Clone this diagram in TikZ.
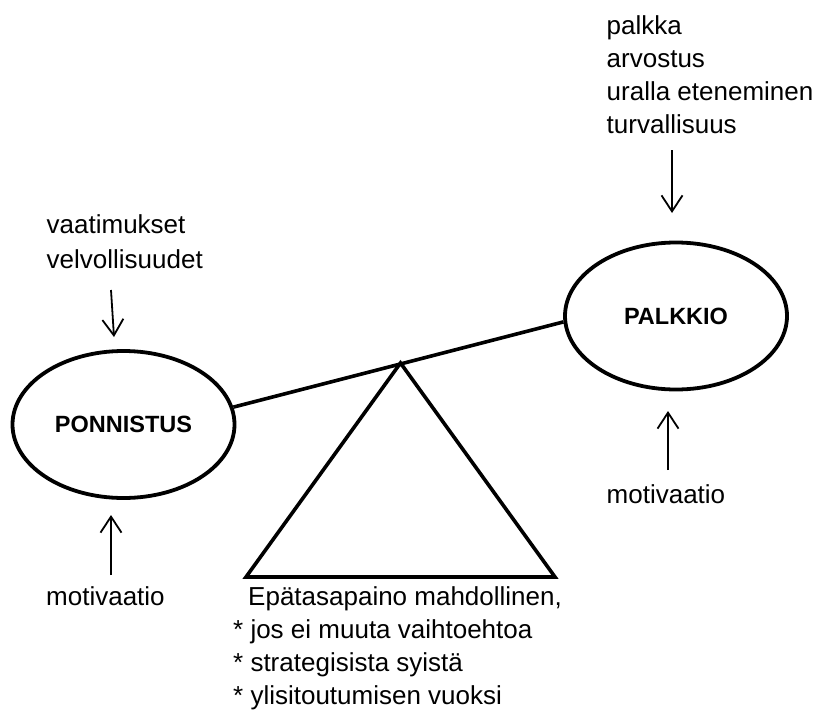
\documentclass[tikz,border=0pt]{standalone}
\usepackage{fontspec}
\setmainfont{Liberation Sans}
\usetikzlibrary{arrows.meta,shapes.geometric}
\begin{document}
\begin{tikzpicture}[x=1pt,y=-1pt,
  txt/.style={inner sep=0pt, anchor=base west, align=left, font=\fontsize{26}{33}\selectfont},
  oval/.style={draw, ellipse, line width=3.8pt, inner sep=0pt, minimum width=222pt, minimum height=147pt, font=\fontsize{23.5}{28}\selectfont\bfseries},
  arr/.style={line width=1.8pt, -{Straight Barb[length=16pt,width=21pt,line width=1.8pt]}},
  beam/.style={line width=3.6pt, line join=miter}]
\useasboundingbox (0,0) rectangle (818,709);

\node[oval] (pon) at (123.5,424.5) {PONNISTUS};
\node[oval] (pal) at (676,316) {PALKKIO};

\draw[beam] (pon.9.6) -- (pal.183);
\coordinate (apex) at (400.5,363);
\coordinate (bl) at (246,577);
\coordinate (br) at (555,577);
\draw[beam] (apex) -- (bl) -- (br) -- cycle;

% anchor base = baseline of the last line
\node[txt] (rew) at (606.5,133) {palkka\\arvostus\\uralla eteneminen\\turvallisuus};
\node[txt, font=\fontsize{26}{35}\selectfont] (dem) at (46.5,268) {vaatimukset\\velvollisuudet};
\node[txt] (motl) at (46,605) {motivaatio};
\node[txt] (motr) at (606.5,503) {motivaatio};
\node[txt] (imb) at (233,704) {\hspace*{15pt}Epätasapaino mahdollinen,\\* jos ei muuta vaihtoehtoa\\* strategisista syistä\\* ylisitoutumisen vuoksi};

\coordinate (a1s) at (672,150); \coordinate (a1e) at (672,213);
\coordinate (a2s) at (111,290); \coordinate (a2e) at (114,337);
\coordinate (a3s) at (111,575); \coordinate (a3e) at (111,515);
\coordinate (a4s) at (668,470); \coordinate (a4e) at (668,411);
\draw[arr] (a1s) -- (a1e);
\draw[arr] (a2s) -- (a2e);
\draw[arr] (a3s) -- (a3e);
\draw[arr] (a4s) -- (a4e);
\end{tikzpicture}
\end{document}
